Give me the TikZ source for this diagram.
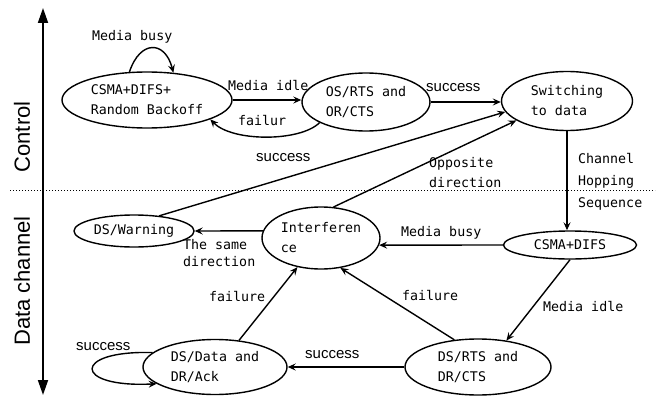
\documentclass[tikz,border=0pt]{standalone}
\usepackage{fontspec}
\usetikzlibrary{shapes.geometric,arrows.meta}
\newfontfamily\monof{DejaVu Sans Mono}
\newfontfamily\sansf{Liberation Sans}
\begin{document}
\begin{tikzpicture}[x=1pt,y=-1pt,
  state/.style={draw,ellipse,line width=1.4pt,inner sep=0pt,align=left,
    font=\monof\fontsize{13.3}{20}\selectfont},
  lbl/.style={inner sep=0pt,anchor=north west,align=left,
    font=\monof\fontsize{13.3}{20}\selectfont},
  slbl/.style={inner sep=0pt,anchor=west,font=\sansf\fontsize{15}{18}\selectfont},
  side/.style={inner sep=0pt,rotate=90,font=\sansf\fontsize{22}{26}\selectfont},
  arr/.style={line width=1.4pt,-{Stealth[length=8pt,width=7pt,inset=3pt]}},
  axis/.style={line width=1.8pt,{Triangle[length=15pt,width=10pt]}-{Triangle[length=15pt,width=10pt]}}]
\useasboundingbox (0,0) rectangle (663,396);

% side axis and the divider between the two channels
\coordinate (axtop) at (43,8);
\coordinate (axbot) at (43,395);
\draw[axis] (axtop) -- (axbot);
\node[side] (ctl) at (22,137) {Control};
\node[side] (dat) at (22,281) {Data channel};
\coordinate (divl) at (10,190);
\coordinate (divr) at (655,190);
\draw[line width=0.9pt,dash pattern=on 1pt off 2pt] (divl) -- (divr);

% states
\node[state,minimum width=170pt,minimum height=56pt] (csma) at (147,100) {CSMA+DIFS+\\Random Backoff};
\node[state,minimum width=128pt,minimum height=58pt] (os) at (366,102) {OS/RTS and\\OR/CTS};
\node[state,minimum width=131pt,minimum height=59pt] (sw) at (567,101) {Switching\\to data};
\node[state,minimum width=120pt,minimum height=32pt] (warn) at (134,231) {DS/Warning};
\node[state,minimum width=118pt,minimum height=62pt] (intf) at (321,238) {Interferen\\ce};
\node[state,minimum width=133pt,minimum height=28pt] (cd) at (570,245) {CSMA+DIFS};
\node[state,minimum width=144pt,minimum height=55pt] (dsd) at (215,367) {DS/Data and\\DR/Ack};
\node[state,minimum width=146pt,minimum height=56pt] (dsr) at (478,367) {DS/RTS and\\DR/CTS};

% control channel transitions
\draw[arr] (csma.122) .. controls (140,40) and (165,40) .. (csma.46);
\node[lbl] (l1) at (92,30) {Media busy};
\draw[arr] (csma.east) -- (csma.east -| os.west);
\node[lbl] (l2) at (228,80) {Media idle};
\draw[arr] (os.204) .. controls (300,142) and (232,142) .. (csma.-17);
\node[lbl] (l3) at (238,115) {failur};
\draw[arr] (os.east) -- (os.east -| sw.west);
\node[slbl] (l4) at (426,88) {success};

% transitions crossing the divider
\draw[arr] (warn.31) -- (sw.190);
\node[slbl] (l5) at (256,158) {success};
\draw[arr] (intf.68) -- (sw.201);
\node[lbl] (l6) at (429,157) {Opposite\\direction};
\draw[arr] (sw.south) -- (sw.south |- cd.north);
\node[lbl,font=\monof\fontsize{13.3}{22}\selectfont] (l7) at (578,153) {Channel\\Hopping\\Sequence};

% data channel transitions
\draw[arr] (cd.west) -- (intf.-7);
\node[lbl] (l8) at (401,226) {Media busy};
\draw[arr] (intf.173) -- (warn.east);
\node[lbl,font=\monof\fontsize{13.3}{17}\selectfont] (l9) at (183,239) {The same\\direction};
\draw[arr] (cd.south) -- (dsr.43);
\node[lbl] (l10) at (543,301) {Media idle};
\draw[arr] (dsr.131) -- (intf.-57);
\node[lbl] (l11) at (402,290) {failure};
\draw[arr] (dsr.west) -- (dsd.east);
\node[slbl] (l12) at (305,355) {success};
\draw[arr] (dsd.48) -- (intf.231);
\node[lbl] (l13) at (209,291) {failure};
\draw[arr] (dsd.167) .. controls (72,350) and (72,388) .. (dsd.196);
\node[slbl] (l14) at (76,347) {success};
\end{tikzpicture}
\end{document}
